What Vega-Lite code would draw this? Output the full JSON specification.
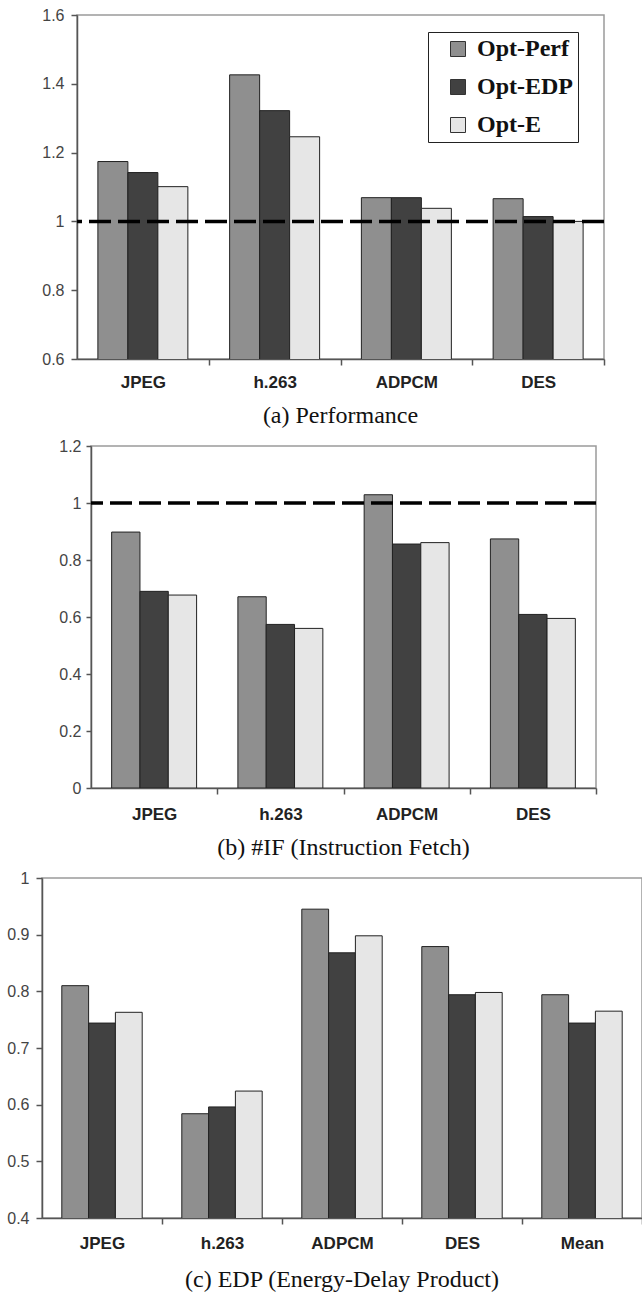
{
  "$schema": "https://vega.github.io/schema/vega-lite/v6.json",
  "padding": {"left": 0, "right": 0, "top": 6, "bottom": 0},
  "background": "#ffffff",
  "spacing": 8,
  "datasets": {
    "a": [
      {"bench": "JPEG", "config": "Opt-Perf", "value": 1.174},
      {"bench": "JPEG", "config": "Opt-EDP", "value": 1.142},
      {"bench": "JPEG", "config": "Opt-E", "value": 1.101},
      {"bench": "h.263", "config": "Opt-Perf", "value": 1.426},
      {"bench": "h.263", "config": "Opt-EDP", "value": 1.322},
      {"bench": "h.263", "config": "Opt-E", "value": 1.246},
      {"bench": "ADPCM", "config": "Opt-Perf", "value": 1.069},
      {"bench": "ADPCM", "config": "Opt-EDP", "value": 1.069},
      {"bench": "ADPCM", "config": "Opt-E", "value": 1.038},
      {"bench": "DES", "config": "Opt-Perf", "value": 1.066},
      {"bench": "DES", "config": "Opt-EDP", "value": 1.014},
      {"bench": "DES", "config": "Opt-E", "value": 1.0}
    ],
    "b": [
      {"bench": "JPEG", "config": "Opt-Perf", "value": 0.898},
      {"bench": "JPEG", "config": "Opt-EDP", "value": 0.690},
      {"bench": "JPEG", "config": "Opt-E", "value": 0.677},
      {"bench": "h.263", "config": "Opt-Perf", "value": 0.671},
      {"bench": "h.263", "config": "Opt-EDP", "value": 0.574},
      {"bench": "h.263", "config": "Opt-E", "value": 0.560},
      {"bench": "ADPCM", "config": "Opt-Perf", "value": 1.029},
      {"bench": "ADPCM", "config": "Opt-EDP", "value": 0.856},
      {"bench": "ADPCM", "config": "Opt-E", "value": 0.861},
      {"bench": "DES", "config": "Opt-Perf", "value": 0.874},
      {"bench": "DES", "config": "Opt-EDP", "value": 0.609},
      {"bench": "DES", "config": "Opt-E", "value": 0.595}
    ],
    "c": [
      {"bench": "JPEG", "config": "Opt-Perf", "value": 0.810},
      {"bench": "JPEG", "config": "Opt-EDP", "value": 0.744},
      {"bench": "JPEG", "config": "Opt-E", "value": 0.763},
      {"bench": "h.263", "config": "Opt-Perf", "value": 0.584},
      {"bench": "h.263", "config": "Opt-EDP", "value": 0.596},
      {"bench": "h.263", "config": "Opt-E", "value": 0.624},
      {"bench": "ADPCM", "config": "Opt-Perf", "value": 0.945},
      {"bench": "ADPCM", "config": "Opt-EDP", "value": 0.868},
      {"bench": "ADPCM", "config": "Opt-E", "value": 0.898},
      {"bench": "DES", "config": "Opt-Perf", "value": 0.879},
      {"bench": "DES", "config": "Opt-EDP", "value": 0.794},
      {"bench": "DES", "config": "Opt-E", "value": 0.798},
      {"bench": "Mean", "config": "Opt-Perf", "value": 0.794},
      {"bench": "Mean", "config": "Opt-EDP", "value": 0.744},
      {"bench": "Mean", "config": "Opt-E", "value": 0.765}
    ],
    "ref": [{"ref": 1}],
    "none": []
  },
  "resolve": {
    "scale": {"x": "independent", "y": "independent", "color": "independent", "xOffset": "independent"},
    "axis": {"x": "independent", "y": "independent"},
    "legend": {"color": "independent"}
  },
  "config": {
    "view": {"stroke": "#9a9a9a", "strokeWidth": 1.5},
    "axis": {
      "domainColor": "#555555",
      "domainWidth": 1.5,
      "tickColor": "#555555",
      "tickWidth": 1.5,
      "grid": false,
      "title": null
    },
    "axisY": {
      "labelFont": "Liberation Sans",
      "labelFontSize": 16,
      "labelColor": "#444444",
      "tickSize": 6,
      "labelPadding": 7,
      "format": ".1~f"
    },
    "axisX": {
      "labelFont": "Liberation Sans",
      "labelFontSize": 17,
      "labelFontWeight": "bold",
      "labelColor": "#222222",
      "labelAngle": 0,
      "tickSize": 6,
      "labelPadding": 9
    },
    "title": {
      "font": "Liberation Serif",
      "fontSize": 24,
      "fontWeight": "normal",
      "color": "#111111",
      "orient": "bottom",
      "anchor": "middle",
      "offset": 14
    }
  },
  "vconcat": [
    {
      "spacing": 0,
      "bounds": "flush",
      "resolve": {
        "scale": {"x": "independent", "y": "independent", "color": "independent"},
        "legend": {"color": "independent"}
      },
      "hconcat": [
        {
          "width": 35,
          "height": 20,
          "view": {"stroke": null},
          "data": {"name": "none"},
          "mark": {"type": "point", "opacity": 0}
        },
        {
          "width": 527,
          "height": 344,
          "title": {"text": "(a) Performance", "offset": 14},
          "layer": [
            {
              "data": {"name": "a"},
              "mark": {"type": "bar", "stroke": "#222222", "strokeWidth": 1, "clip": true},
              "encoding": {
                "x": {
                  "field": "bench", "type": "nominal",
                  "sort": ["JPEG", "h.263", "ADPCM", "DES"],
                  "scale": {"paddingInner": 0.317, "paddingOuter": 0.1585},
                  "axis": {"tickOffset": 65.875, "labelOffset": -65.875}
                },
                "xOffset": {
                  "field": "config", "type": "nominal",
                  "sort": ["Opt-Perf", "Opt-EDP", "Opt-E"],
                  "scale": {"paddingInner": 0, "paddingOuter": 0}
                },
                "y": {
                  "field": "value", "type": "quantitative",
                  "scale": {"domain": [0.6, 1.6], "zero": false, "nice": false},
                  "axis": {"values": [0.6, 0.8, 1, 1.2, 1.4, 1.6]}
                },
                "color": {
                  "field": "config", "type": "nominal",
                  "sort": ["Opt-Perf", "Opt-EDP", "Opt-E"],
                  "scale": {"domain": ["Opt-Perf", "Opt-EDP", "Opt-E"], "range": ["#8f8f8f", "#414141", "#e6e6e6"]},
                  "legend": {
                    "title": null,
                    "orient": "none",
                    "legendX": 351,
                    "legendY": 17,
                    "strokeColor": "#222222",
                    "fillColor": "#ffffff",
                    "padding": 5,
                    "symbolType": "square",
                    "symbolSize": 225,
                    "symbolOffset": 13,
                    "symbolStrokeColor": "#333333",
                    "symbolStrokeWidth": 1,
                    "symbolOpacity": 1,
                    "labelFont": "Liberation Serif",
                    "labelFontWeight": "bold",
                    "labelFontSize": 24,
                    "labelColor": "#111111",
                    "labelOffset": 7,
                    "rowPadding": 14
                  }
                }
              }
            },
            {
              "data": {"name": "ref"},
              "mark": {"type": "rule", "strokeDash": [22, 7], "strokeWidth": 3.5, "color": "#000000"},
              "encoding": {"y": {"field": "ref", "type": "quantitative"}}
            }
          ]
        }
      ]
    },
    {
      "spacing": 0,
      "bounds": "flush",
      "resolve": {
        "scale": {"x": "independent", "y": "independent", "color": "independent"},
        "legend": {"color": "independent"}
      },
      "hconcat": [
        {
          "width": 49,
          "height": 20,
          "view": {"stroke": null},
          "data": {"name": "none"},
          "mark": {"type": "point", "opacity": 0}
        },
        {
          "width": 505,
          "height": 342,
          "title": {"text": "(b) #IF (Instruction Fetch)", "offset": 14},
          "layer": [
            {
              "data": {"name": "b"},
              "mark": {"type": "bar", "stroke": "#222222", "strokeWidth": 1, "clip": true},
              "encoding": {
                "x": {
                  "field": "bench", "type": "nominal",
                  "sort": ["JPEG", "h.263", "ADPCM", "DES"],
                  "scale": {"paddingInner": 0.327, "paddingOuter": 0.1635},
                  "axis": {"tickOffset": 63.125, "labelOffset": -63.125, "labelPadding": 12}
                },
                "xOffset": {
                  "field": "config", "type": "nominal",
                  "sort": ["Opt-Perf", "Opt-EDP", "Opt-E"],
                  "scale": {"paddingInner": 0, "paddingOuter": 0}
                },
                "y": {
                  "field": "value", "type": "quantitative",
                  "scale": {"domain": [0, 1.2], "nice": false},
                  "axis": {"values": [0, 0.2, 0.4, 0.6, 0.8, 1, 1.2], "labelPadding": 5, "tickSize": 5}
                },
                "color": {
                  "field": "config", "type": "nominal",
                  "scale": {"domain": ["Opt-Perf", "Opt-EDP", "Opt-E"], "range": ["#8f8f8f", "#414141", "#e6e6e6"]},
                  "legend": null
                }
              }
            },
            {
              "data": {"name": "ref"},
              "mark": {"type": "rule", "strokeDash": [22, 7], "strokeWidth": 3.5, "color": "#000000"},
              "encoding": {"y": {"field": "ref", "type": "quantitative"}}
            }
          ]
        }
      ]
    },
    {
      "width": 600,
      "height": 340,
      "title": {"text": "(c) EDP (Energy-Delay Product)", "offset": 17},
      "data": {"name": "c"},
      "mark": {"type": "bar", "stroke": "#222222", "strokeWidth": 1, "clip": true},
      "encoding": {
        "x": {
          "field": "bench", "type": "nominal",
          "sort": ["JPEG", "h.263", "ADPCM", "DES", "Mean"],
          "scale": {"paddingInner": 0.33, "paddingOuter": 0.165},
          "axis": {"tickOffset": 60, "labelOffset": -60, "labelPadding": 11}
        },
        "xOffset": {
          "field": "config", "type": "nominal",
          "sort": ["Opt-Perf", "Opt-EDP", "Opt-E"],
          "scale": {"paddingInner": 0, "paddingOuter": 0}
        },
        "y": {
          "field": "value", "type": "quantitative",
          "scale": {"domain": [0.4, 1], "zero": false, "nice": false},
          "axis": {"values": [0.4, 0.5, 0.6, 0.7, 0.8, 0.9, 1], "minExtent": 41, "maxExtent": 41}
        },
        "color": {
          "field": "config", "type": "nominal",
          "scale": {"domain": ["Opt-Perf", "Opt-EDP", "Opt-E"], "range": ["#8f8f8f", "#414141", "#e6e6e6"]},
          "legend": null
        }
      }
    }
  ]
}
